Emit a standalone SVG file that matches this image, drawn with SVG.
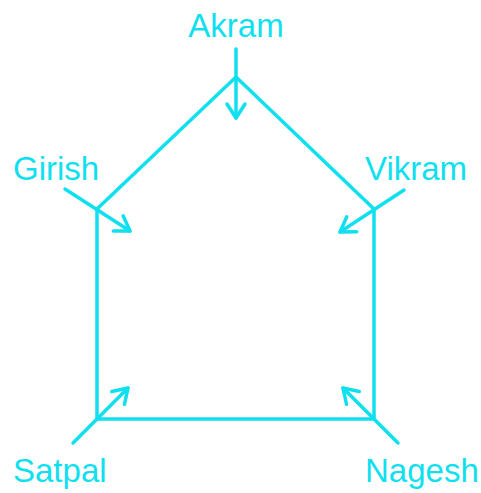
<svg xmlns="http://www.w3.org/2000/svg" width="481" height="493" viewBox="0 0 481 493">
<defs>
<style>
.e{stroke:#0FE0F0;stroke-width:3.5;fill:none;stroke-linecap:round;stroke-linejoin:round}
.a{stroke:#0FE0F0;stroke-width:3.5;fill:none;stroke-linecap:round;marker-end:url(#h)}
.t{font-family:"Liberation Sans",Arial,sans-serif;font-size:33px;fill:#0FE0F0}
</style>
<marker id="h" markerUnits="userSpaceOnUse" markerWidth="30" markerHeight="30" viewBox="-20 -15 30 30" refX="0" refY="0" orient="auto">
<path d="M-14,-9 L0,0 L-14,9" fill="none" stroke="#0FE0F0" stroke-width="3.5" stroke-linecap="round" stroke-linejoin="round"/>
</marker>
</defs>
<rect width="481" height="493" fill="#ffffff"/>
<g id="connectors">
<path class="e" d="M97,419 L97,209 L236,77 L374,209 L374,419 Z"/>
<line class="a" x1="236" y1="49" x2="236" y2="118"/>
<line class="a" x1="65" y1="189" x2="130" y2="231"/>
<line class="a" x1="404" y1="190" x2="340" y2="232"/>
<line class="a" x1="73" y1="443" x2="128" y2="388"/>
<line class="a" x1="398" y1="443" x2="343" y2="388"/>
</g>
<g id="akram"><text class="t" x="236" y="37" text-anchor="middle">Akram</text></g>
<g id="girish"><text class="t" x="13" y="180">Girish</text></g>
<g id="vikram"><text class="t" x="365" y="180">Vikram</text></g>
<g id="satpal"><text class="t" x="13" y="482">Satpal</text></g>
<g id="nagesh"><text class="t" x="365" y="482">Nagesh</text></g>
</svg>
